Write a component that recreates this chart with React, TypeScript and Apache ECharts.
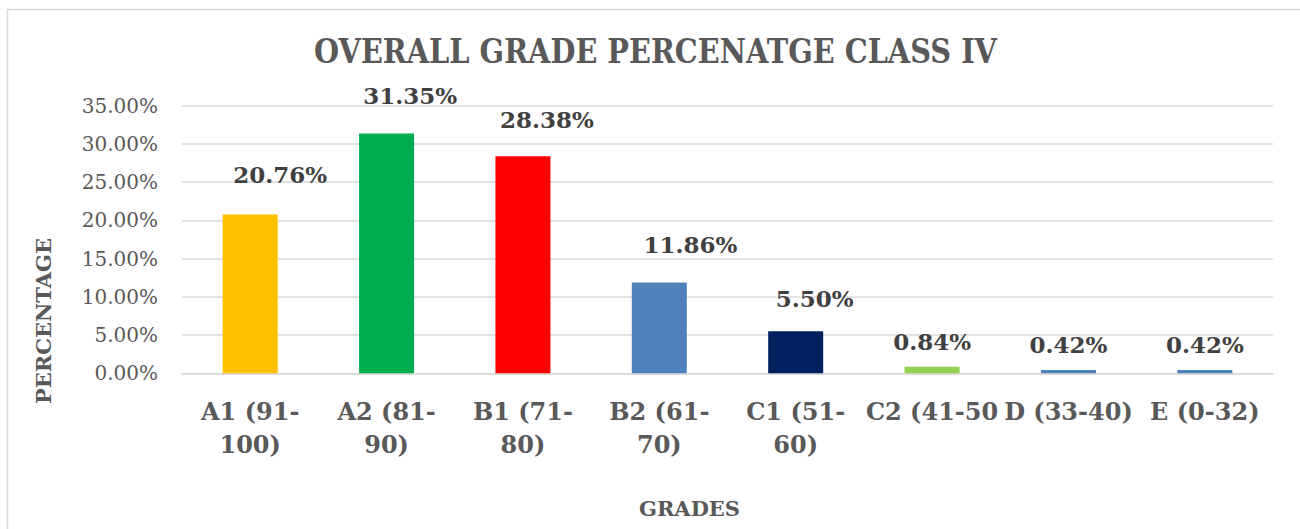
import React, { useEffect, useRef } from "react";
import * as echarts from "echarts";

const categories = [
  "A1 (91-100)",
  "A2 (81-90)",
  "B1 (71-80)",
  "B2 (61-70)",
  "C1 (51-60)",
  "C2 (41-50",
  "D (33-40)",
  "E (0-32)",
];
const percentages = [20.76, 31.35, 28.38, 11.86, 5.5, 0.84, 0.42, 0.42];
const barColors = ["#FFC000", "#00B050", "#FF0000", "#4F81BD", "#002060", "#92D050", "#4F81BD", "#4F81BD"];
const yMin = 0;
const yMax = 35;
const yInterval = 5;
// label gap above each bar and horizontal nudge (px), styling only
const labelGaps = [28, 26, 25, 27, 21, 14, 14, 14];
const labelShiftX = [30, 23.5, 24, 31, 19, 0, 0, 0];

const FONT = "DejaVu Serif";

function wrapLabel(s: string): string {
  if (s.length >= 10) {
    const i = s.indexOf("-");
    if (i > 0) return s.slice(0, i + 1) + "\n" + s.slice(i + 1);
  }
  return s;
}

export default function App() {
  const ref = useRef<HTMLDivElement>(null);
  useEffect(() => {
    document.body.style.margin = "0";
    document.body.style.overflow = "hidden";
    const chart = echarts.init(ref.current!, undefined, { renderer: "svg" });
    chart.setOption({
      animation: false,
      backgroundColor: "#ffffff",
      grid: { left: 182, right: 27, top: 105.5, bottom: 155.7, containLabel: false },
      xAxis: {
        type: "category",
        data: categories,
        axisTick: { show: false },
        axisLine: { show: true, lineStyle: { color: "#d9d9d9", width: 1.5 } },
        axisLabel: {
          interval: 0,
          margin: 22,
          formatter: (v: string) => wrapLabel(v),
          fontFamily: FONT,
          fontWeight: "bold",
          fontSize: 24,
          lineHeight: 33,
          color: "#595959",
        },
      },
      yAxis: {
        type: "value",
        min: yMin,
        max: yMax,
        interval: yInterval,
        axisLine: { show: false },
        axisTick: { show: false },
        splitLine: { lineStyle: { color: "#d9d9d9", width: 1.5 } },
        axisLabel: {
          margin: 24,
          formatter: (v: number) => v.toFixed(2) + "%",
          fontFamily: FONT,
          fontSize: 20,
          color: "#595959",
        },
      },
      series: [
        {
          type: "bar",
          barWidth: 55,
          data: percentages.map((v, i) => ({
            value: v,
            itemStyle: { color: barColors[i] },
            label: { distance: labelGaps[i], offset: [labelShiftX[i], 0] },
          })),
          label: {
            show: true,
            position: "top",
            formatter: (p: any) => Number(p.value).toFixed(2) + "%",
            fontFamily: FONT,
            fontWeight: "bold",
            fontSize: 23,
            color: "#404040",
          },
        },
      ],
      graphic: [
        {
          type: "rect",
          z: -10,
          silent: true,
          shape: { x: 7.5, y: 9.5, width: 1400, height: 600 },
          style: { fill: "none", stroke: "#d9d9d9", lineWidth: 1.5 },
        },
        {
          type: "text",
          x: 655.5,
          y: 50.8,
          scaleY: 1.15,
          style: {
            text: "OVERALL GRADE PERCENATGE CLASS IV",
            fontFamily: FONT,
            fontWeight: "bold",
            fontSize: 28.8,
            fill: "#595959",
            align: "center",
            verticalAlign: "middle",
          },
        },
        {
          type: "text",
          x: 43.5,
          y: 321,
          rotation: Math.PI / 2,
          style: {
            text: "PERCENTAGE",
            fontFamily: FONT,
            fontWeight: "bold",
            fontSize: 21,
            fill: "#595959",
            align: "center",
            verticalAlign: "middle",
          },
        },
        {
          type: "text",
          x: 689.5,
          y: 508.5,
          style: {
            text: "GRADES",
            fontFamily: FONT,
            fontWeight: "bold",
            fontSize: 21,
            fill: "#595959",
            align: "center",
            verticalAlign: "middle",
          },
        },
      ],
    });
    return () => chart.dispose();
  }, []);
  return <div ref={ref} style={{ width: 1300, height: 529 }} />;
}
